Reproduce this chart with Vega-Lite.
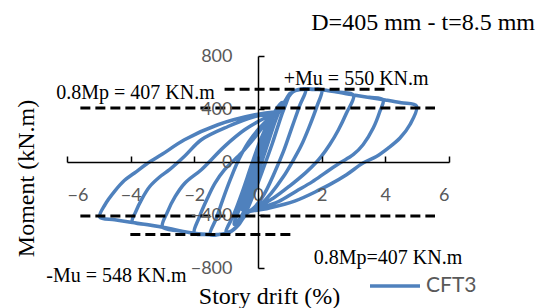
{
  "$schema": "https://vega.github.io/schema/vega-lite/v6.json",
  "width": 382,
  "height": 212,
  "autosize": "none",
  "padding": {"left": 67, "top": 56, "right": 89, "bottom": 40},
  "background": "white",
  "title": {
    "text": "D=405 mm - t=8.5 mm",
    "font": "Liberation Serif",
    "fontSize": 24,
    "fontWeight": "normal",
    "color": "black",
    "anchor": "end",
    "frame": "group",
    "dx": 86,
    "dy": 21,
    "baseline": "alphabetic",
    "offset": 14
  },
  "config": {
    "view": {"stroke": null},
    "axis": {
      "grid": false,
      "domainColor": "black",
      "domainWidth": 1.5,
      "tickColor": "black",
      "tickWidth": 1.5,
      "tickSize": -6,
      "labelFont": "Lato",
      "labelFontSize": 18,
      "labelColor": "#595959",
      "titleFont": "Liberation Serif",
      "titleFontSize": 24,
      "titleFontWeight": "normal",
      "titleColor": "black"
    }
  },
  "datasets": {
    "loops": [
      {"i":0,"d":0,"m":0,"s":"CFT3"},
      {"i":1,"d":0.375,"m":290,"s":"CFT3"},
      {"i":2,"d":0.2,"m":150,"s":"CFT3"},
      {"i":3,"d":0.0,"m":-10,"s":"CFT3"},
      {"i":4,"d":-0.2,"m":-170,"s":"CFT3"},
      {"i":5,"d":-0.375,"m":-290,"s":"CFT3"},
      {"i":6,"d":-0.2,"m":-110,"s":"CFT3"},
      {"i":7,"d":0.0,"m":40,"s":"CFT3"},
      {"i":8,"d":0.25,"m":220,"s":"CFT3"},
      {"i":9,"d":0.5,"m":360,"s":"CFT3"},
      {"i":10,"d":0.3,"m":220,"s":"CFT3"},
      {"i":11,"d":0.05,"m":30,"s":"CFT3"},
      {"i":12,"d":-0.2,"m":-160,"s":"CFT3"},
      {"i":13,"d":-0.5,"m":-360,"s":"CFT3"},
      {"i":14,"d":-0.3,"m":-200,"s":"CFT3"},
      {"i":15,"d":0.0,"m":30,"s":"CFT3"},
      {"i":16,"d":0.3,"m":260,"s":"CFT3"},
      {"i":17,"d":0.55,"m":390,"s":"CFT3"},
      {"i":18,"d":0.75,"m":450,"s":"CFT3"},
      {"i":19,"d":0.5,"m":280,"s":"CFT3"},
      {"i":20,"d":0.2,"m":60,"s":"CFT3"},
      {"i":21,"d":-0.1,"m":-160,"s":"CFT3"},
      {"i":22,"d":-0.36,"m":-330,"s":"CFT3"},
      {"i":23,"d":-0.55,"m":-420,"s":"CFT3"},
      {"i":24,"d":-0.75,"m":-470,"s":"CFT3"},
      {"i":25,"d":-0.5,"m":-300,"s":"CFT3"},
      {"i":26,"d":-0.2,"m":-80,"s":"CFT3"},
      {"i":27,"d":0.1,"m":150,"s":"CFT3"},
      {"i":28,"d":0.45,"m":340,"s":"CFT3"},
      {"i":29,"d":0.7,"m":410,"s":"CFT3"},
      {"i":30,"d":0.85,"m":460,"s":"CFT3"},
      {"i":31,"d":1.0,"m":520,"s":"CFT3"},
      {"i":32,"d":0.75,"m":360,"s":"CFT3"},
      {"i":33,"d":0.45,"m":140,"s":"CFT3"},
      {"i":34,"d":0.15,"m":-60,"s":"CFT3"},
      {"i":35,"d":-0.15,"m":-250,"s":"CFT3"},
      {"i":36,"d":-0.4,"m":-390,"s":"CFT3"},
      {"i":37,"d":-0.6,"m":-470,"s":"CFT3"},
      {"i":38,"d":-0.8,"m":-515,"s":"CFT3"},
      {"i":39,"d":-1.0,"m":-530,"s":"CFT3"},
      {"i":40,"d":-0.75,"m":-390,"s":"CFT3"},
      {"i":41,"d":-0.5,"m":-230,"s":"CFT3"},
      {"i":42,"d":-0.2,"m":-20,"s":"CFT3"},
      {"i":43,"d":0.1,"m":180,"s":"CFT3"},
      {"i":44,"d":0.4,"m":320,"s":"CFT3"},
      {"i":45,"d":0.7,"m":390,"s":"CFT3"},
      {"i":46,"d":0.9,"m":470,"s":"CFT3"},
      {"i":47,"d":1.1,"m":530,"s":"CFT3"},
      {"i":48,"d":1.3,"m":548,"s":"CFT3"},
      {"i":49,"d":1.5,"m":550,"s":"CFT3"},
      {"i":50,"d":1.3,"m":420,"s":"CFT3"},
      {"i":51,"d":1.05,"m":250,"s":"CFT3"},
      {"i":52,"d":0.8,"m":80,"s":"CFT3"},
      {"i":53,"d":0.5,"m":-90,"s":"CFT3"},
      {"i":54,"d":0.2,"m":-240,"s":"CFT3"},
      {"i":55,"d":-0.1,"m":-340,"s":"CFT3"},
      {"i":56,"d":-0.36,"m":-390,"s":"CFT3"},
      {"i":57,"d":-0.6,"m":-470,"s":"CFT3"},
      {"i":58,"d":-0.9,"m":-530,"s":"CFT3"},
      {"i":59,"d":-1.2,"m":-546,"s":"CFT3"},
      {"i":60,"d":-1.5,"m":-548,"s":"CFT3"},
      {"i":61,"d":-1.3,"m":-420,"s":"CFT3"},
      {"i":62,"d":-1.1,"m":-280,"s":"CFT3"},
      {"i":63,"d":-0.85,"m":-120,"s":"CFT3"},
      {"i":64,"d":-0.6,"m":20,"s":"CFT3"},
      {"i":65,"d":-0.3,"m":150,"s":"CFT3"},
      {"i":66,"d":0.1,"m":270,"s":"CFT3"},
      {"i":67,"d":0.45,"m":350,"s":"CFT3"},
      {"i":68,"d":0.68,"m":385,"s":"CFT3"},
      {"i":69,"d":0.85,"m":450,"s":"CFT3"},
      {"i":70,"d":1.1,"m":530,"s":"CFT3"},
      {"i":71,"d":1.4,"m":548,"s":"CFT3"},
      {"i":72,"d":1.7,"m":548,"s":"CFT3"},
      {"i":73,"d":2.0,"m":545,"s":"CFT3"},
      {"i":74,"d":1.85,"m":420,"s":"CFT3"},
      {"i":75,"d":1.6,"m":260,"s":"CFT3"},
      {"i":76,"d":1.35,"m":120,"s":"CFT3"},
      {"i":77,"d":1.1,"m":10,"s":"CFT3"},
      {"i":78,"d":0.8,"m":-110,"s":"CFT3"},
      {"i":79,"d":0.4,"m":-240,"s":"CFT3"},
      {"i":80,"d":0.0,"m":-340,"s":"CFT3"},
      {"i":81,"d":-0.36,"m":-385,"s":"CFT3"},
      {"i":82,"d":-0.6,"m":-470,"s":"CFT3"},
      {"i":83,"d":-0.9,"m":-530,"s":"CFT3"},
      {"i":84,"d":-1.3,"m":-548,"s":"CFT3"},
      {"i":85,"d":-1.6,"m":-546,"s":"CFT3"},
      {"i":86,"d":-2.0,"m":-538,"s":"CFT3"},
      {"i":87,"d":-1.85,"m":-420,"s":"CFT3"},
      {"i":88,"d":-1.6,"m":-280,"s":"CFT3"},
      {"i":89,"d":-1.35,"m":-160,"s":"CFT3"},
      {"i":90,"d":-1.05,"m":-58,"s":"CFT3"},
      {"i":91,"d":-0.52,"m":68,"s":"CFT3"},
      {"i":92,"d":-0.16,"m":168,"s":"CFT3"},
      {"i":93,"d":0.25,"m":290,"s":"CFT3"},
      {"i":94,"d":0.68,"m":382,"s":"CFT3"},
      {"i":95,"d":0.85,"m":452,"s":"CFT3"},
      {"i":96,"d":1.1,"m":532,"s":"CFT3"},
      {"i":97,"d":1.4,"m":549,"s":"CFT3"},
      {"i":98,"d":2.0,"m":545,"s":"CFT3"},
      {"i":99,"d":2.5,"m":528,"s":"CFT3"},
      {"i":100,"d":3.0,"m":505,"s":"CFT3"},
      {"i":101,"d":2.78,"m":370,"s":"CFT3"},
      {"i":102,"d":2.52,"m":240,"s":"CFT3"},
      {"i":103,"d":2.25,"m":130,"s":"CFT3"},
      {"i":104,"d":1.99,"m":42,"s":"CFT3"},
      {"i":105,"d":1.84,"m":0,"s":"CFT3"},
      {"i":106,"d":1.5,"m":-80,"s":"CFT3"},
      {"i":107,"d":1.0,"m":-180,"s":"CFT3"},
      {"i":108,"d":0.5,"m":-270,"s":"CFT3"},
      {"i":109,"d":0.0,"m":-340,"s":"CFT3"},
      {"i":110,"d":-0.36,"m":-384,"s":"CFT3"},
      {"i":111,"d":-0.6,"m":-472,"s":"CFT3"},
      {"i":112,"d":-0.9,"m":-532,"s":"CFT3"},
      {"i":113,"d":-1.3,"m":-549,"s":"CFT3"},
      {"i":114,"d":-2.0,"m":-538,"s":"CFT3"},
      {"i":115,"d":-2.5,"m":-520,"s":"CFT3"},
      {"i":116,"d":-3.0,"m":-490,"s":"CFT3"},
      {"i":117,"d":-2.85,"m":-380,"s":"CFT3"},
      {"i":118,"d":-2.6,"m":-260,"s":"CFT3"},
      {"i":119,"d":-2.3,"m":-160,"s":"CFT3"},
      {"i":120,"d":-1.78,"m":-58,"s":"CFT3"},
      {"i":121,"d":-1.05,"m":118,"s":"CFT3"},
      {"i":122,"d":-0.42,"m":243,"s":"CFT3"},
      {"i":123,"d":0.2,"m":330,"s":"CFT3"},
      {"i":124,"d":0.68,"m":381,"s":"CFT3"},
      {"i":125,"d":0.85,"m":452,"s":"CFT3"},
      {"i":126,"d":1.1,"m":533,"s":"CFT3"},
      {"i":127,"d":1.4,"m":550,"s":"CFT3"},
      {"i":128,"d":2.0,"m":546,"s":"CFT3"},
      {"i":129,"d":3.0,"m":506,"s":"CFT3"},
      {"i":130,"d":3.5,"m":488,"s":"CFT3"},
      {"i":131,"d":3.93,"m":469,"s":"CFT3"},
      {"i":132,"d":3.83,"m":383,"s":"CFT3"},
      {"i":133,"d":3.62,"m":256,"s":"CFT3"},
      {"i":134,"d":3.3,"m":130,"s":"CFT3"},
      {"i":135,"d":2.99,"m":55,"s":"CFT3"},
      {"i":136,"d":2.57,"m":-8,"s":"CFT3"},
      {"i":137,"d":2.15,"m":-75,"s":"CFT3"},
      {"i":138,"d":1.7,"m":-150,"s":"CFT3"},
      {"i":139,"d":1.2,"m":-220,"s":"CFT3"},
      {"i":140,"d":0.63,"m":-300,"s":"CFT3"},
      {"i":141,"d":0.0,"m":-352,"s":"CFT3"},
      {"i":142,"d":-0.36,"m":-384,"s":"CFT3"},
      {"i":143,"d":-0.6,"m":-472,"s":"CFT3"},
      {"i":144,"d":-0.9,"m":-532,"s":"CFT3"},
      {"i":145,"d":-1.3,"m":-549,"s":"CFT3"},
      {"i":146,"d":-2.0,"m":-538,"s":"CFT3"},
      {"i":147,"d":-3.0,"m":-492,"s":"CFT3"},
      {"i":148,"d":-3.5,"m":-472,"s":"CFT3"},
      {"i":149,"d":-3.95,"m":-450,"s":"CFT3"},
      {"i":150,"d":-3.85,"m":-380,"s":"CFT3"},
      {"i":151,"d":-3.65,"m":-280,"s":"CFT3"},
      {"i":152,"d":-3.4,"m":-185,"s":"CFT3"},
      {"i":153,"d":-3.1,"m":-115,"s":"CFT3"},
      {"i":154,"d":-2.78,"m":-58,"s":"CFT3"},
      {"i":155,"d":-2.3,"m":45,"s":"CFT3"},
      {"i":156,"d":-1.78,"m":168,"s":"CFT3"},
      {"i":157,"d":-0.94,"m":268,"s":"CFT3"},
      {"i":158,"d":-0.1,"m":343,"s":"CFT3"},
      {"i":159,"d":0.68,"m":381,"s":"CFT3"},
      {"i":160,"d":0.85,"m":452,"s":"CFT3"},
      {"i":161,"d":1.1,"m":533,"s":"CFT3"},
      {"i":162,"d":1.4,"m":550,"s":"CFT3"},
      {"i":163,"d":2.0,"m":546,"s":"CFT3"},
      {"i":164,"d":3.0,"m":506,"s":"CFT3"},
      {"i":165,"d":4.0,"m":468,"s":"CFT3"},
      {"i":166,"d":4.5,"m":447,"s":"CFT3"},
      {"i":167,"d":4.98,"m":422,"s":"CFT3"},
      {"i":168,"d":4.77,"m":281,"s":"CFT3"},
      {"i":169,"d":4.46,"m":181,"s":"CFT3"},
      {"i":170,"d":4.09,"m":105,"s":"CFT3"},
      {"i":171,"d":3.72,"m":42,"s":"CFT3"},
      {"i":172,"d":3.3,"m":-8,"s":"CFT3"},
      {"i":173,"d":2.78,"m":-96,"s":"CFT3"},
      {"i":174,"d":2.25,"m":-171,"s":"CFT3"},
      {"i":175,"d":1.94,"m":-209,"s":"CFT3"},
      {"i":176,"d":1.15,"m":-295,"s":"CFT3"},
      {"i":177,"d":0.21,"m":-355,"s":"CFT3"},
      {"i":178,"d":-0.36,"m":-384,"s":"CFT3"},
      {"i":179,"d":-0.6,"m":-472,"s":"CFT3"},
      {"i":180,"d":-0.9,"m":-532,"s":"CFT3"},
      {"i":181,"d":-1.3,"m":-549,"s":"CFT3"},
      {"i":182,"d":-2.0,"m":-538,"s":"CFT3"},
      {"i":183,"d":-3.0,"m":-492,"s":"CFT3"},
      {"i":184,"d":-4.0,"m":-455,"s":"CFT3"},
      {"i":185,"d":-4.5,"m":-436,"s":"CFT3"},
      {"i":186,"d":-4.97,"m":-416,"s":"CFT3"},
      {"i":187,"d":-4.8,"m":-320,"s":"CFT3"},
      {"i":188,"d":-4.5,"m":-220,"s":"CFT3"},
      {"i":189,"d":-4.2,"m":-140,"s":"CFT3"},
      {"i":190,"d":-3.88,"m":-83,"s":"CFT3"},
      {"i":191,"d":-3.5,"m":-15,"s":"CFT3"},
      {"i":192,"d":-3.0,"m":60,"s":"CFT3"},
      {"i":193,"d":-2.31,"m":168,"s":"CFT3"},
      {"i":194,"d":-1.26,"m":281,"s":"CFT3"},
      {"i":195,"d":-0.1,"m":356,"s":"CFT3"},
      {"i":196,"d":0.68,"m":381,"s":"CFT3"}
    ],
    "limits": [
      {"x1": -5.58, "x2": 5.56, "y": 407},
      {"x1": -1.05, "x2": 4.04, "y": 550},
      {"x1": -5.58, "x2": 5.56, "y": -407},
      {"x1": -4.01, "x2": 1.05, "y": -548}
    ],
    "notes": [
      {"x": -6.34, "y": 520, "t": "0.8Mp = 407 KN.m"},
      {"x": 0.81, "y": 625, "t": "+Mu = 550 KN.m"},
      {"x": 1.75, "y": -723, "t": "0.8Mp=407 KN.m"},
      {"x": -6.65, "y": -862, "t": "-Mu = 548 KN.m"}
    ]
  },
  "layer": [
    {
      "data": {"name": "loops"},
      "mark": {"type": "line", "strokeWidth": 3.5, "strokeJoin": "round", "strokeCap": "round", "interpolate": "catmull-rom", "clip": false},
      "encoding": {
        "x": {
          "field": "d", "type": "quantitative",
          "scale": {"domain": [-6, 6], "nice": false, "zero": false},
          "axis": {
            "values": [-6, -4, -2, 0, 2, 4, 6],
            "offset": -106,
            "labelPadding": 30,
            "zindex": 1,
            "title": "Story drift (%)",
            "titleX": 202,
            "titleY": 141,
            "titleBaseline": "alphabetic"
          }
        },
        "y": {
          "field": "m", "type": "quantitative",
          "scale": {"domain": [-800, 800], "nice": false, "zero": false},
          "axis": {
            "values": [-800, -400, 0, 400, 800],
            "offset": -191,
            "labelPadding": 32,
            "zindex": 1,
            "title": "Moment (kN.m)",
            "titleX": -232,
            "titleY": 122,
            "titleBaseline": "middle",
            "titleAngle": -90
          }
        },
        "order": {"field": "i", "type": "quantitative"},
        "color": {
          "field": "s", "type": "nominal",
          "scale": {"range": ["#4F81BD"]},
          "legend": {
            "orient": "none",
            "legendX": 301,
            "legendY": 203,
            "title": null,
            "symbolType": "stroke",
            "symbolSize": 2500,
            "symbolStrokeWidth": 3.5,
            "labelFont": "Lato",
            "labelFontSize": 21,
            "labelColor": "#595959",
            "labelOffset": 4,
            "padding": 0
          }
        }
      }
    },
    {
      "data": {"name": "limits"},
      "mark": {"type": "rule", "color": "black", "strokeWidth": 3, "strokeDash": [10, 5]},
      "encoding": {
        "x": {"field": "x1", "type": "quantitative"},
        "x2": {"field": "x2"},
        "y": {"field": "y", "type": "quantitative"}
      }
    },
    {
      "data": {"name": "notes"},
      "mark": {"type": "text", "font": "Liberation Serif", "fontSize": 20, "color": "black", "align": "left", "baseline": "middle"},
      "encoding": {
        "x": {"field": "x", "type": "quantitative"},
        "y": {"field": "y", "type": "quantitative"},
        "text": {"field": "t"}
      }
    }
  ]
}
